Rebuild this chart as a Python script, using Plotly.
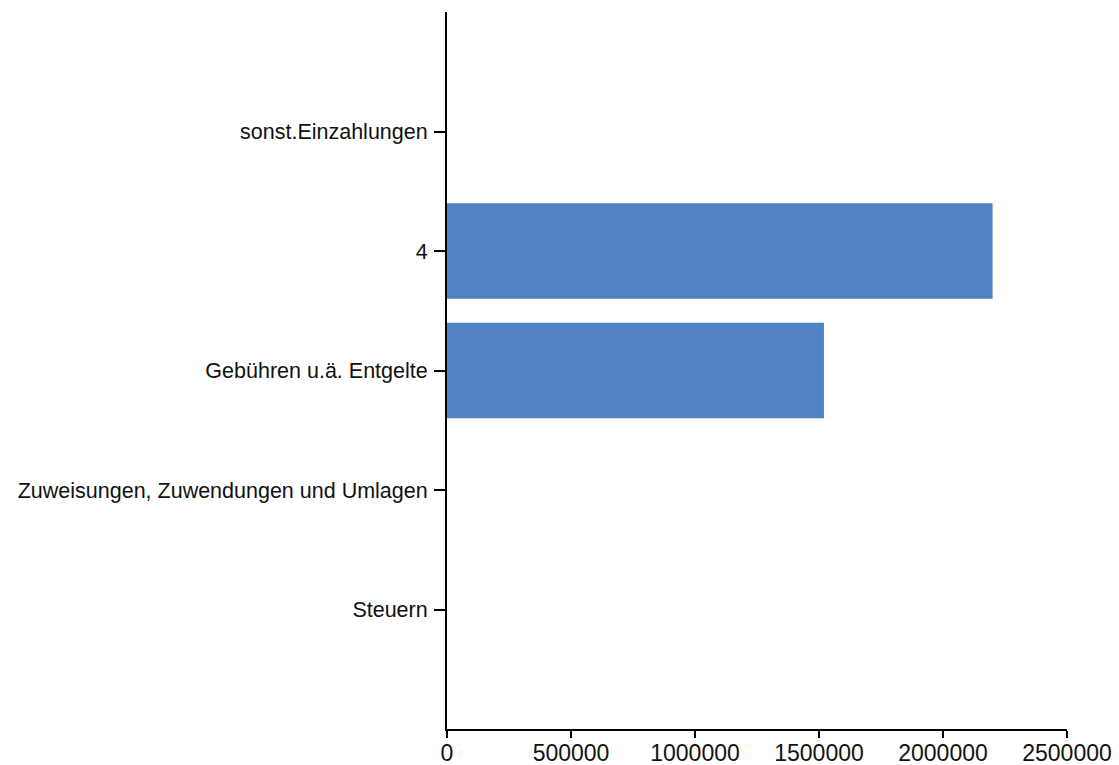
import plotly.graph_objects as go

categories = ["Steuern", "Zuweisungen, Zuwendungen und Umlagen", "Gebühren u.ä. Entgelte", "4", "sonst.Einzahlungen"]
values = [0, 0, 1520000, 2200000, 0]
x_ticks = [0, 500000, 1000000, 1500000, 2000000, 2500000]

fig = go.Figure(go.Bar(
    x=values, y=categories, orientation="h",
    marker=dict(color="#5183C4", line=dict(width=0)),
))

fig.update_layout(
    width=1119, height=765,
    margin=dict(l=447, r=52, t=12, b=36, autoexpand=False),
    paper_bgcolor="white", plot_bgcolor="white",
    bargap=0.2, showlegend=False,
    font=dict(family="Liberation Sans, Arial", color="#111111"),
)
fig.update_xaxes(
    range=[0, 2500000], tickvals=x_ticks, ticktext=[str(v) for v in x_ticks],
    showgrid=False, zeroline=False, showline=True, linecolor="black", linewidth=2,
    ticks="outside", ticklen=7, tickwidth=2, tickcolor="black",
    tickfont=dict(size=23), automargin=False, ticklabelstandoff=-5,
)
fig.update_yaxes(
    type="category", categoryorder="array", categoryarray=categories,
    range=[-1, 5], showgrid=False, zeroline=False, showline=True,
    linecolor="black", linewidth=2, ticks="outside", ticklen=11, tickwidth=2,
    tickcolor="black", tickfont=dict(size=21.5), automargin=False,
    ticklabelstandoff=2,
)

fig.write_html(
    "out.html",
    config={"displayModeBar": False},
    post_script="document.body.style.margin='0';document.body.style.overflow='hidden';",
)
